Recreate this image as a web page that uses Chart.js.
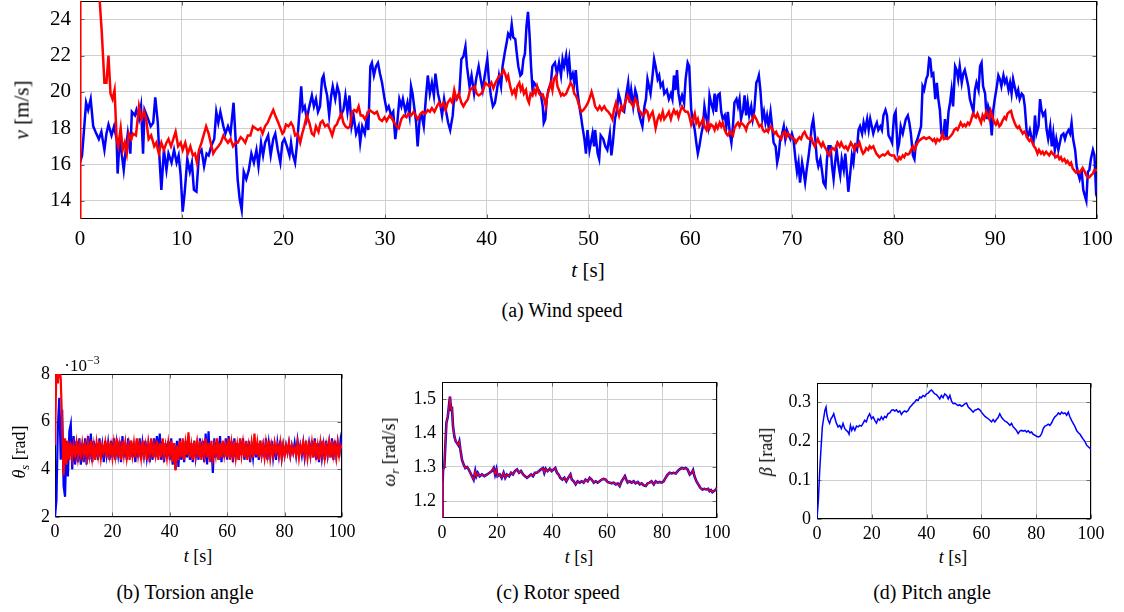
<!DOCTYPE html>
<html>
<head>
<meta charset="utf-8">
<script src="https://cdn.jsdelivr.net/npm/chart.js@4.4.1/dist/chart.umd.min.js"></script>
<style>
  body { margin: 0; background: #fff; }
  #page { position: relative; width: 1124px; height: 612px; overflow: hidden; font-family: 'Liberation Serif', 'Times New Roman', 'DejaVu Serif', serif; color: #000; }
  canvas { position: absolute; }
  .lbl { position: absolute; white-space: nowrap; transform: translate(-50%, -50%); line-height: 1; }
  .rot { transform: translate(-50%, -50%) rotate(-90deg); }
  sub { font-size: 70%; vertical-align: -0.3em; line-height: 0; }
  sup { font-size: 70%; vertical-align: 0.55em; line-height: 0; }
</style>
</head>
<body>
<div id="page">
  <canvas id="windChart" style="left:0;top:0" width="1124" height="250"></canvas>
  <canvas id="torsionChart" style="left:0;top:360px" width="370" height="180"></canvas>
  <canvas id="rotorChart" style="left:370px;top:360px" width="370" height="180"></canvas>
  <canvas id="pitchChart" style="left:740px;top:360px" width="384" height="180"></canvas>

  <div class="lbl rot" style="left:22px;top:110px;font-size:21px"><i>v</i> [m/s]</div>
  <div class="lbl" style="left:588px;top:270px;font-size:21px"><i>t</i> [s]</div>
  <div class="lbl" style="left:562px;top:310px;font-size:20px">(a) Wind speed</div>

  <div class="lbl" style="left:82px;top:365px;font-size:17px">·10<sup>−3</sup></div>
  <div class="lbl rot" style="left:19px;top:452px;font-size:18px"><i>θ<sub>s</sub></i> [rad]</div>
  <div class="lbl" style="left:198px;top:556px;font-size:18px"><i>t</i> [s]</div>
  <div class="lbl" style="left:185px;top:592px;font-size:20px">(b) Torsion angle</div>

  <div class="lbl rot" style="left:389px;top:452px;font-size:18px"><i>ω<sub>r</sub></i> [rad/s]</div>
  <div class="lbl" style="left:579px;top:557px;font-size:18px"><i>t</i> [s]</div>
  <div class="lbl" style="left:558px;top:592px;font-size:20px">(c) Rotor speed</div>

  <div class="lbl rot" style="left:766px;top:452px;font-size:18px"><i>β</i> [rad]</div>
  <div class="lbl" style="left:953px;top:557px;font-size:18px"><i>t</i> [s]</div>
  <div class="lbl" style="left:932px;top:592px;font-size:20px">(d) Pitch angle</div>
</div>
<script>
// tick values
const timeTicksMain = [0, 10, 20, 30, 40, 50, 60, 70, 80, 90, 100]
const windTicks = [14, 16, 18, 20, 22, 24]
const timeTicksSmall = [0, 20, 40, 60, 80, 100]
const torsionTicks = [2, 4, 6, 8]
const rotorTicks = [1.2, 1.3, 1.4, 1.5]
const pitchTicks = [0, 0.1, 0.2, 0.3]

// (a) wind speed [t, v]
const windMeasured = [[0,16.1],[0.2,16.5],[0.6,19.4],[0.8,19.0],[1.05,19.6],[1.3,18.1],[1.6,17.7],[1.85,17.4],[2.1,17.8],[2.4,16.8],[2.6,17.7],[2.8,18.2],[3.1,17.6],[3.35,18.1],[3.6,17.4],[3.7,15.5],[3.9,17.4],[4.1,16.6],[4.3,15.7],[4.5,16.8],[4.7,17.7],[4.95,16.6],[5.1,18.9],[5.4,18.7],[5.55,19.0],[5.8,18.5],[6.0,19.2],[6.2,16.6],[6.35,19.0],[6.7,18.5],[6.95,18.1],[7.2,18.3],[7.4,19.7],[7.65,18.3],[7.8,16.5],[8.0,14.6],[8.25,16.8],[8.5,15.7],[8.7,16.6],[9.0,16.1],[9.25,16.8],[9.5,16.1],[9.7,16.5],[9.9,15.4],[10.1,13.4],[10.3,14.5],[10.55,16.3],[10.8,15.6],[11.0,16.1],[11.2,14.6],[11.45,14.5],[11.7,16.6],[11.95,16.8],[12.2,15.9],[12.45,16.6],[12.65,16.5],[12.9,17.0],[13.2,17.4],[13.4,18.9],[13.6,18.3],[13.8,18.9],[14.1,18.1],[14.3,17.7],[14.55,18.1],[14.8,17.7],[15.1,19.4],[15.3,17.4],[15.5,15.2],[15.7,14.1],[15.9,13.5],[16.1,15.6],[16.35,15.2],[16.6,15.7],[16.85,16.6],[17.1,16.1],[17.35,16.8],[17.55,15.9],[17.8,17.2],[18.0,16.5],[18.2,17.2],[18.5,17.6],[18.75,16.5],[19.0,17.4],[19.2,17.7],[19.45,16.8],[19.7,16.1],[19.9,17.2],[20.1,17.4],[20.35,17.0],[20.6,16.5],[20.75,17.2],[20.9,16.6],[21.15,16.1],[21.35,17.2],[21.6,19.0],[21.75,20.3],[21.9,19.0],[22.1,19.2],[22.3,18.5],[22.55,19.2],[22.8,19.8],[23.0,19.2],[23.2,19.6],[23.4,18.9],[23.6,19.2],[23.8,20.7],[23.95,20.9],[24.1,20.3],[24.3,19.8],[24.5,18.7],[24.7,19.8],[24.85,20.3],[25.1,19.6],[25.3,20.3],[25.5,19.9],[25.65,18.7],[25.9,19.0],[26.1,19.8],[26.3,18.9],[26.5,19.8],[26.7,18.1],[26.9,18.7],[27.15,17.7],[27.4,18.1],[27.55,17.2],[27.75,18.1],[28.0,17.7],[28.2,18.5],[28.35,17.9],[28.55,21.4],[28.7,21.6],[28.9,20.9],[29.1,21.4],[29.3,21.6],[29.5,21.0],[29.7,20.5],[29.95,19.6],[30.15,19.0],[30.35,19.2],[30.6,18.7],[30.8,18.9],[31.0,17.4],[31.2,18.3],[31.4,19.6],[31.6,19.2],[31.75,19.6],[32.0,18.9],[32.2,19.4],[32.4,18.7],[32.55,20.3],[32.7,19.9],[32.9,19.0],[33.05,18.3],[33.2,17.0],[33.4,18.5],[33.6,18.7],[33.8,18.1],[34.0,19.6],[34.2,20.9],[34.4,19.9],[34.6,20.5],[34.8,19.8],[34.95,21.0],[35.2,19.9],[35.4,19.4],[35.6,18.7],[35.8,19.6],[36.0,18.9],[36.2,18.3],[36.4,17.9],[36.65,18.7],[36.8,19.8],[37.05,19.6],[37.3,19.9],[37.5,21.8],[37.7,21.95],[37.9,22.5],[38.05,21.4],[38.3,20.3],[38.5,20.9],[38.75,19.9],[38.95,20.7],[39.2,21.4],[39.4,20.7],[39.6,20.1],[39.8,20.9],[40.05,21.8],[40.2,20.7],[40.4,19.8],[40.6,19.2],[40.8,19.4],[41.0,20.1],[41.2,20.9],[41.4,20.3],[41.55,21.4],[41.75,22.1],[41.95,22.7],[42.1,23.2],[42.3,23.0],[42.45,23.7],[42.6,23.0],[42.8,22.9],[42.95,22.1],[43.1,21.4],[43.3,20.9],[43.45,21.0],[43.6,21.8],[43.75,22.1],[43.9,23.6],[44.05,24.4],[44.2,23.2],[44.35,21.4],[44.5,20.1],[44.65,20.5],[44.9,20.3],[45.1,20.1],[45.3,19.9],[45.5,19.2],[45.6,18.3],[45.75,18.5],[45.9,19.6],[46.05,20.1],[46.3,20.5],[46.45,21.4],[46.7,21.6],[46.9,21.0],[47.1,21.6],[47.3,20.9],[47.45,21.8],[47.6,21.4],[47.8,22.0],[47.95,21.2],[48.1,21.8],[48.25,20.7],[48.45,21.0],[48.6,20.5],[48.75,21.2],[48.9,20.1],[49.1,19.2],[49.25,18.7],[49.4,18.1],[49.6,17.4],[49.75,16.6],[49.9,17.9],[50.1,16.8],[50.4,17.7],[50.55,17.0],[50.65,17.9],[50.9,16.6],[51.05,16.3],[51.2,17.6],[51.45,17.4],[51.65,17.0],[51.85,16.8],[52.1,17.7],[52.25,16.5],[52.4,17.2],[52.6,18.5],[52.8,19.0],[52.95,19.9],[53.1,19.6],[53.3,19.0],[53.5,18.9],[53.7,19.8],[53.9,20.5],[54.05,19.4],[54.2,20.1],[54.4,19.2],[54.6,20.1],[54.75,19.8],[54.9,19.0],[55.1,18.5],[55.3,18.1],[55.5,19.2],[55.65,19.6],[55.8,20.7],[55.95,20.3],[56.1,19.9],[56.3,20.9],[56.45,21.8],[56.6,21.4],[56.8,20.7],[56.95,20.9],[57.1,20.3],[57.3,20.5],[57.45,19.9],[57.7,20.1],[57.9,19.6],[58.1,19.9],[58.25,19.6],[58.4,20.9],[58.55,20.1],[58.7,21.2],[58.85,19.9],[59.0,19.4],[59.2,19.8],[59.4,19.4],[59.55,20.7],[59.75,21.6],[59.9,21.4],[60.1,19.0],[60.3,18.3],[60.45,17.9],[60.6,17.2],[60.75,16.6],[60.9,17.0],[61.1,17.7],[61.25,18.1],[61.4,19.2],[61.6,18.5],[61.75,18.1],[61.9,19.8],[62.05,19.4],[62.25,19.0],[62.4,19.9],[62.55,18.9],[62.7,19.8],[62.9,19.9],[63.05,18.9],[63.2,18.5],[63.4,18.7],[63.55,18.1],[63.7,18.9],[63.9,17.7],[64.05,17.2],[64.2,18.1],[64.35,19.4],[64.55,19.6],[64.7,19.2],[64.85,19.6],[65.0,18.5],[65.2,19.0],[65.35,19.8],[65.5,18.7],[65.65,19.4],[65.8,18.7],[66.0,19.2],[66.15,18.5],[66.3,19.0],[66.5,20.5],[66.65,20.7],[66.75,20.9],[66.9,20.1],[67.1,18.5],[67.25,18.9],[67.4,18.3],[67.55,18.7],[67.7,18.1],[67.9,18.9],[68.05,18.1],[68.2,17.2],[68.4,17.0],[68.55,16.1],[68.7,16.5],[68.85,17.4],[69.0,17.6],[69.2,18.1],[69.35,17.4],[69.5,17.9],[69.7,17.6],[69.85,17.4],[70.0,17.7],[70.15,17.4],[70.35,16.3],[70.5,15.6],[70.65,16.1],[70.8,15.0],[71.0,16.1],[71.15,15.6],[71.3,15.0],[71.45,15.7],[71.65,16.5],[71.8,17.2],[71.95,18.1],[72.1,18.5],[72.3,17.4],[72.45,16.3],[72.6,15.9],[72.8,16.3],[72.95,15.7],[73.1,15.0],[73.3,14.8],[73.45,16.3],[73.6,17.0],[73.8,17.0],[73.95,15.9],[74.1,15.2],[74.25,16.1],[74.4,16.8],[74.6,15.9],[74.75,15.4],[74.9,16.3],[75.1,15.7],[75.25,16.6],[75.4,15.6],[75.55,14.5],[75.75,15.6],[75.9,16.5],[76.05,16.1],[76.2,17.0],[76.4,16.8],[76.55,17.9],[76.7,18.1],[76.9,17.7],[77.05,18.3],[77.2,17.9],[77.4,18.5],[77.55,17.9],[77.7,18.5],[77.85,18.1],[78.0,17.7],[78.2,18.1],[78.35,18.3],[78.5,17.9],[78.7,18.1],[78.85,17.9],[79.0,18.7],[79.2,19.0],[79.35,18.7],[79.5,17.6],[79.7,17.4],[79.85,17.2],[80.05,18.7],[80.2,18.9],[80.4,16.8],[80.55,17.2],[80.7,18.1],[80.9,17.7],[81.05,18.1],[81.2,18.5],[81.4,18.7],[81.55,18.3],[81.7,17.7],[81.9,16.5],[82.05,16.3],[82.2,17.2],[82.35,17.4],[82.5,17.7],[82.7,18.1],[82.85,20.3],[83.0,20.1],[83.2,20.7],[83.35,20.9],[83.5,21.85],[83.6,21.8],[83.75,20.9],[83.9,21.0],[84.1,19.6],[84.25,20.5],[84.4,19.6],[84.55,19.0],[84.7,17.7],[84.9,17.6],[85.05,18.5],[85.2,17.4],[85.4,18.9],[85.55,19.4],[85.7,20.1],[85.85,19.2],[86.05,21.4],[86.2,21.2],[86.35,20.7],[86.5,21.4],[86.7,20.5],[86.85,21.0],[87.0,21.2],[87.2,20.7],[87.35,20.3],[87.5,19.6],[87.7,19.2],[87.85,18.9],[88.0,20.1],[88.15,20.5],[88.35,20.1],[88.5,21.4],[88.65,21.6],[88.8,20.3],[89.0,19.9],[89.15,18.5],[89.3,19.2],[89.45,18.9],[89.65,17.6],[89.8,19.0],[89.95,19.6],[90.15,20.3],[90.3,20.9],[90.45,20.7],[90.6,20.3],[90.8,20.9],[90.95,20.5],[91.1,20.7],[91.3,20.1],[91.45,20.5],[91.6,19.9],[91.75,20.7],[91.9,20.3],[92.1,19.8],[92.25,20.1],[92.4,19.6],[92.6,19.9],[92.75,19.8],[92.9,19.2],[93.1,17.7],[93.25,17.6],[93.4,17.9],[93.6,17.4],[93.75,17.2],[93.9,18.7],[94.05,17.7],[94.25,18.1],[94.4,19.6],[94.55,19.0],[94.7,18.7],[94.9,18.9],[95.05,17.9],[95.2,17.4],[95.4,18.1],[95.55,17.0],[95.7,17.7],[95.85,16.8],[96.0,17.4],[96.2,16.8],[96.35,17.2],[96.5,17.6],[96.7,17.7],[96.85,17.4],[97.0,17.7],[97.2,17.9],[97.35,17.7],[97.5,18.3],[97.65,17.4],[97.85,16.8],[98.0,15.9],[98.15,15.5],[98.3,15.2],[98.5,15.6],[98.65,14.6],[98.8,14.3],[98.95,14.0],[99.1,15.6],[99.25,15.7],[99.4,16.3],[99.6,16.8],[99.75,16.5],[99.9,14.6],[100,14.8]]

const windEstimated = [[0,5],[0.03,32],[1.0,30],[1.93,25.06],[2.15,23.2],[2.4,20.5],[2.6,20.5],[2.8,22.0],[3.0,19.9],[3.2,19.6],[3.4,20.1],[3.6,17.4],[3.75,17.0],[4.0,18.0],[4.2,16.8],[4.4,17.2],[4.6,16.6],[4.8,17.7],[5.05,17.4],[5.2,17.7],[5.5,17.6],[5.8,19.2],[6.05,18.5],[6.3,18.9],[6.5,18.5],[6.75,17.4],[7.0,17.6],[7.3,17.0],[7.5,17.2],[7.75,16.6],[8.0,17.2],[8.25,16.8],[8.5,17.2],[8.7,17.4],[8.95,17.0],[9.4,17.8],[9.65,17.0],[9.9,17.2],[10.1,16.8],[10.35,17.2],[10.6,16.6],[10.85,17.0],[11.1,16.5],[11.3,16.6],[11.5,16.1],[11.7,16.8],[11.95,17.2],[12.2,17.7],[12.4,18.1],[12.65,17.7],[12.85,17.2],[13.1,16.6],[13.3,16.8],[13.6,17.0],[13.85,17.2],[14.1,17.6],[14.3,17.4],[14.55,17.2],[14.8,17.4],[15.05,17.0],[15.3,17.2],[15.5,17.2],[15.8,17.5],[16.0,17.4],[16.25,17.2],[16.5,17.6],[16.75,17.6],[17.0,18.1],[17.25,18.0],[17.5,17.9],[17.75,18.0],[17.95,17.7],[18.2,18.1],[18.45,18.3],[18.75,18.7],[19.0,19.0],[19.2,18.7],[19.5,18.3],[19.7,18.0],[19.9,17.7],[20.05,17.8],[20.25,18.2],[20.5,18.1],[20.75,18.3],[20.95,18.1],[21.15,17.6],[21.4,17.7],[21.65,17.2],[21.85,17.7],[22.05,18.1],[22.3,18.7],[22.55,18.3],[22.8,17.7],[23.0,17.6],[23.2,18.1],[23.45,17.8],[23.65,18.3],[23.85,18.4],[24.1,18.1],[24.35,18.2],[24.6,17.9],[24.8,17.6],[25.05,18.1],[25.25,18.2],[25.45,18.5],[25.7,18.8],[25.9,18.3],[26.1,18.1],[26.35,18.0],[26.55,18.1],[26.75,18.9],[27.0,19.0],[27.2,18.9],[27.4,19.2],[27.6,18.7],[27.8,18.7],[28.0,18.5],[28.2,18.7],[28.45,19.0],[28.7,18.9],[28.95,18.8],[29.2,18.9],[29.45,18.5],[29.7,18.4],[29.95,18.6],[30.15,18.4],[30.45,18.7],[30.7,18.5],[30.9,18.3],[31.15,18.1],[31.35,18.0],[31.6,18.5],[31.85,18.7],[32.1,18.6],[32.3,18.8],[32.55,18.7],[32.8,18.9],[33.0,18.7],[33.2,18.5],[33.5,18.8],[33.7,18.9],[33.95,18.8],[34.2,19.0],[34.4,18.9],[34.6,19.1],[34.85,18.9],[35.1,19.2],[35.3,19.4],[35.5,19.2],[35.75,19.4],[35.95,19.0],[36.15,19.4],[36.4,19.6],[36.6,19.4],[36.8,20.1],[37.0,19.6],[37.25,19.9],[37.5,19.4],[37.7,19.2],[37.9,19.4],[38.15,19.6],[38.35,20.1],[38.55,20.2],[38.8,20.3],[39.0,19.9],[39.2,19.8],[39.45,19.9],[39.65,20.1],[39.85,20.5],[40.05,20.4],[40.25,20.3],[40.45,20.5],[40.65,20.2],[40.85,20.5],[41.05,20.7],[41.25,20.9],[41.5,21.0],[41.65,21.2],[41.8,21.0],[41.95,20.7],[42.1,20.9],[42.3,20.3],[42.5,19.9],[42.7,20.1],[42.85,19.8],[43.0,20.3],[43.2,20.5],[43.35,20.1],[43.5,20.3],[43.65,19.9],[43.85,20.1],[44.0,19.6],[44.15,19.4],[44.3,19.9],[44.5,19.8],[44.65,20.1],[44.8,19.9],[44.95,20.3],[45.15,19.9],[45.3,19.8],[45.5,19.85],[45.65,19.6],[45.8,19.2],[45.95,19.8],[46.1,20.1],[46.3,20.5],[46.45,20.1],[46.6,20.7],[46.8,20.9],[46.95,20.3],[47.1,20.1],[47.3,19.8],[47.45,19.9],[47.6,19.8],[47.8,19.9],[47.95,20.1],[48.1,20.3],[48.25,20.5],[48.45,20.3],[48.6,19.9],[48.75,19.8],[48.9,19.6],[49.1,19.2],[49.3,18.9],[49.5,19.0],[49.75,19.2],[49.95,19.4],[50.2,19.8],[50.3,20.0],[50.5,19.6],[50.65,19.2],[50.9,19.0],[51.1,19.2],[51.3,19.0],[51.55,19.2],[51.75,19.0],[51.95,18.9],[52.2,18.7],[52.35,18.5],[52.5,19.0],[52.7,19.4],[52.85,19.0],[53.0,18.7],[53.2,19.2],[53.4,19.0],[53.6,19.4],[53.85,19.8],[54.0,19.6],[54.15,19.4],[54.4,19.2],[54.6,19.6],[54.8,19.4],[54.95,19.0],[55.1,18.9],[55.3,18.7],[55.5,18.8],[55.65,19.0],[55.8,18.9],[55.95,18.5],[56.1,18.7],[56.3,18.9],[56.45,18.5],[56.6,18.0],[56.8,18.5],[56.95,18.7],[57.1,18.5],[57.3,18.9],[57.45,18.5],[57.7,18.7],[57.9,18.9],[58.1,18.5],[58.25,18.8],[58.4,19.0],[58.55,18.8],[58.7,18.9],[58.85,18.6],[59.0,18.9],[59.2,19.2],[59.4,19.0],[59.55,18.9],[59.75,18.9],[59.9,18.7],[60.1,18.2],[60.3,18.5],[60.45,18.8],[60.6,18.3],[60.75,18.5],[60.9,18.1],[61.1,18.3],[61.25,18.5],[61.4,18.1],[61.6,17.9],[61.75,18.3],[61.9,18.0],[62.05,18.2],[62.25,18.1],[62.4,17.9],[62.55,18.2],[62.7,18.0],[62.9,18.3],[63.05,18.1],[63.2,18.3],[63.4,17.9],[63.55,17.7],[63.7,17.6],[63.9,17.8],[64.05,17.7],[64.2,17.6],[64.35,18.0],[64.55,18.2],[64.7,18.3],[64.85,18.1],[65.0,18.3],[65.2,18.2],[65.35,18.1],[65.5,17.9],[65.65,18.2],[65.8,18.3],[66.0,18.4],[66.15,18.5],[66.3,18.7],[66.5,18.5],[66.65,18.3],[66.8,18.1],[67.0,18.2],[67.15,17.9],[67.3,17.8],[67.5,17.9],[67.65,17.8],[67.8,18.0],[67.95,18.1],[68.1,17.9],[68.3,17.7],[68.45,17.8],[68.6,17.6],[68.8,17.5],[68.95,17.4],[69.1,17.7],[69.3,17.8],[69.45,17.5],[69.6,17.7],[69.8,17.6],[69.95,17.5],[70.1,17.45],[70.25,17.4],[70.4,17.2],[70.6,17.4],[70.75,17.5],[70.9,17.4],[71.1,17.7],[71.25,17.8],[71.4,17.6],[71.55,17.45],[71.7,17.4],[71.9,17.5],[72.05,17.2],[72.25,17.0],[72.4,17.2],[72.55,17.4],[72.7,17.2],[72.9,17.0],[73.05,17.2],[73.2,17.0],[73.4,16.8],[73.55,16.6],[73.7,16.5],[73.85,16.8],[74.0,16.9],[74.2,16.8],[74.35,17.0],[74.5,17.2],[74.7,17.0],[74.85,17.2],[75.0,17.0],[75.15,16.9],[75.3,17.0],[75.5,16.8],[75.65,17.0],[75.8,17.2],[76.0,17.0],[76.15,16.8],[76.3,17.1],[76.5,17.0],[76.65,17.2],[76.85,16.8],[77.0,16.6],[77.15,16.7],[77.3,16.9],[77.5,16.8],[77.65,17.0],[77.8,16.9],[78.0,17.0],[78.15,16.8],[78.3,16.6],[78.45,16.5],[78.6,16.4],[78.8,16.5],[78.95,16.55],[79.1,16.5],[79.3,16.6],[79.45,16.7],[79.6,16.55],[79.8,16.5],[80.05,16.5],[80.2,16.3],[80.4,16.2],[80.55,16.4],[80.7,16.3],[80.9,16.5],[81.05,16.4],[81.2,16.6],[81.4,16.55],[81.55,16.6],[81.7,16.8],[81.9,17.0],[82.05,16.8],[82.2,17.0],[82.35,17.2],[82.5,17.3],[82.7,17.4],[82.85,17.45],[83.0,17.5],[83.2,17.4],[83.35,17.45],[83.5,17.5],[83.7,17.4],[83.85,17.3],[84.0,17.4],[84.15,17.2],[84.3,17.4],[84.5,17.3],[84.65,17.4],[84.8,17.7],[84.95,17.4],[85.15,17.45],[85.3,17.4],[85.5,17.5],[85.65,17.6],[85.8,17.7],[85.95,17.9],[86.15,18.0],[86.3,17.9],[86.45,18.1],[86.6,18.3],[86.8,18.1],[86.95,18.2],[87.1,18.1],[87.3,18.3],[87.45,18.2],[87.6,18.4],[87.8,18.8],[87.95,18.7],[88.1,18.6],[88.25,18.8],[88.45,18.5],[88.6,18.3],[88.75,18.7],[88.9,18.5],[89.1,18.9],[89.25,18.7],[89.4,18.5],[89.55,18.95],[89.75,18.6],[89.9,18.3],[90.05,18.2],[90.2,18.4],[90.4,18.1],[90.55,18.2],[90.7,18.4],[90.9,18.6],[91.05,18.5],[91.2,18.8],[91.4,18.9],[91.55,18.95],[91.7,18.6],[91.9,18.3],[92.05,18.1],[92.2,18.0],[92.35,18.1],[92.5,17.9],[92.7,17.7],[92.85,17.8],[93.0,17.7],[93.1,17.5],[93.35,17.3],[93.5,17.4],[93.65,17.2],[93.8,17.0],[93.95,16.9],[94.15,16.6],[94.3,16.8],[94.5,16.6],[94.65,16.7],[94.8,16.55],[95.0,16.7],[95.15,16.6],[95.3,16.5],[95.5,16.7],[95.65,16.6],[95.8,16.5],[95.95,16.4],[96.15,16.5],[96.3,16.3],[96.45,16.4],[96.6,16.2],[96.8,16.3],[96.95,16.1],[97.1,16.2],[97.3,16.0],[97.45,16.1],[97.6,15.8],[97.8,15.65],[97.95,15.55],[98.1,15.65],[98.3,15.55],[98.45,15.7],[98.6,15.8],[98.75,15.65],[98.95,15.4],[99.1,15.3],[99.25,15.3],[99.4,15.4],[99.6,15.5],[99.75,15.7],[100,15.7]]

// (b) torsion angle, x1e-3 rad, one sample every 0.5 s
const torsionStep = 0.5
const torsionMeasured = [
  2.0, 2.7, 5.8, 7.0, 4.4, 6.5, 3.3, 2.85, 5.2, 3.7, 5.6, 5.9, 4.0, 5.4, 4.2, 5.2, 4.3, 5.3, 4.2, 5.1,
  4.3, 5.3, 4.2, 5.4, 4.4, 5.5, 4.3, 5.2, 4.5, 5.1, 4.4, 5.3, 4.5, 5.0, 4.3, 5.2, 4.6, 5.1, 4.4, 5.2,
  4.5, 5.3, 4.4, 5.1, 4.6, 5.2, 4.3, 5.4, 4.5, 5.0, 4.4, 5.3, 4.6, 5.2, 4.5, 5.1, 4.3, 5.2, 4.5, 5.3,
  4.4, 5.1, 4.6, 5.2, 4.5, 5.0, 4.3, 5.2, 4.4, 5.3, 4.5, 5.4, 4.6, 5.5, 4.4, 5.2, 4.3, 5.1, 4.5, 5.2,
  4.4, 5.3, 4.2, 5.1, 4.0, 5.2, 4.1, 5.3, 4.4, 5.1, 4.3, 5.2, 4.5, 5.4, 4.4, 5.1, 4.3, 5.2, 4.5, 5.0,
  4.4, 5.3, 4.5, 5.2, 4.3, 5.5, 4.2, 5.6, 4.4, 5.0, 3.85, 5.3, 4.5, 5.2, 4.4, 5.4, 4.3, 5.1, 4.5, 5.3,
  4.4, 5.4, 4.5, 5.2, 4.3, 5.3, 4.5, 5.1, 4.4, 5.2, 4.6, 5.3, 4.4, 5.1, 4.5, 5.2, 4.3, 5.0, 4.5, 5.2,
  4.5, 5.1, 4.4, 5.2, 4.6, 5.0, 4.5, 5.3, 4.4, 5.1, 4.6, 5.2, 4.5, 5.0, 4.4, 5.1, 4.6, 5.2, 4.5, 5.0,
  4.6, 5.0, 4.7, 5.1, 4.6, 5.0, 4.7, 5.1, 4.6, 5.2, 4.7, 5.0, 4.6, 5.1, 4.5, 5.0, 4.7, 5.1, 4.6, 5.2,
  4.5, 5.3, 4.4, 5.1, 4.3, 5.2, 4.5, 5.0, 4.4, 5.2, 4.6, 5.1, 4.5, 5.3, 4.4, 5.2, 4.6, 5.1, 4.5, 5.2,
  4.8
]
const torsionEstimated = [
  5.0, 8.5, 7.6, 8.4, 7.8, 5.8, 3.75, 5.3, 4.2, 5.2, 4.4, 5.1, 4.5, 5.0, 4.6, 5.1, 4.5, 5.0, 4.6, 5.1,
  4.6, 5.0, 4.5, 5.1, 4.6, 5.2, 4.5, 5.0, 4.4, 5.1, 4.6, 5.2, 4.5, 5.0, 4.7, 5.1, 4.5, 5.2, 4.6, 5.0,
  4.5, 5.1, 4.6, 5.3, 4.5, 5.0, 4.4, 5.2, 4.6, 5.1, 4.5, 5.0, 4.4, 5.2, 4.6, 5.1, 4.5, 5.3, 4.6, 5.0,
  4.5, 5.2, 4.6, 5.0, 4.4, 5.1, 4.6, 5.3, 4.5, 5.0, 4.6, 5.2, 4.4, 5.1, 4.5, 5.3, 4.6, 5.0, 4.5, 5.1,
  4.6, 5.2, 4.3, 5.1, 3.95, 5.0, 4.4, 5.2, 4.5, 5.3, 4.4, 5.1, 4.6, 5.55, 4.5, 5.0, 4.4, 5.2, 4.6, 5.1,
  4.5, 5.2, 4.4, 5.0, 4.6, 5.3, 4.5, 5.1, 4.3, 5.2, 4.5, 5.0, 4.6, 5.3, 4.4, 5.1, 4.5, 5.2, 4.6, 5.0,
  4.5, 5.3, 4.4, 5.1, 4.6, 5.2, 4.5, 5.0, 4.4, 5.3, 4.6, 5.1, 4.5, 5.2, 4.4, 5.0, 4.6, 5.1, 4.5, 5.5,
  4.6, 5.1, 4.5, 5.2, 4.6, 5.0, 4.5, 5.1, 4.6, 5.2, 4.5, 5.0, 4.6, 5.1, 4.7, 5.0, 4.6, 5.1, 4.5, 5.0,
  4.6, 5.0, 4.7, 5.1, 4.6, 5.0, 4.7, 4.9, 4.6, 5.1, 4.5, 5.0, 4.7, 5.1, 4.6, 5.2, 4.5, 5.0, 4.6, 5.1,
  4.5, 5.2, 4.6, 5.0, 4.4, 5.1, 4.6, 5.2, 4.5, 5.0, 4.6, 5.1, 4.5, 5.2, 4.6, 5.0, 4.5, 5.1, 4.6, 5.0,
  4.9
]

// (c) rotor speed [t, rad/s] - measured and estimated overlap
const rotorSpeed = [[0,1.1],[0.2,1.25],[0.4,1.293],[0.85,1.30],[1.6,1.43],[2.1,1.448],[2.5,1.478],[2.9,1.507],[3.3,1.468],[3.6,1.478],[4.0,1.42],[4.5,1.39],[5.0,1.375],[5.5,1.37],[5.9,1.365],[6.3,1.375],[6.7,1.35],[7.3,1.32],[7.9,1.307],[8.5,1.297],[9.1,1.30],[9.7,1.293],[10.3,1.283],[10.9,1.273],[11.5,1.263],[12.1,1.288],[12.5,1.273],[13.0,1.283],[13.7,1.273],[14.5,1.278],[15.4,1.273],[16.4,1.278],[17.3,1.283],[18.1,1.288],[18.8,1.297],[19.3,1.278],[19.8,1.293],[20.2,1.273],[21.0,1.278],[21.7,1.268],[22.4,1.283],[23.0,1.268],[23.6,1.278],[24.4,1.273],[25.1,1.283],[25.8,1.278],[26.5,1.288],[27.3,1.293],[28.0,1.283],[28.7,1.288],[29.5,1.278],[30.2,1.273],[30.9,1.268],[31.6,1.273],[32.4,1.278],[33.1,1.273],[33.8,1.283],[34.5,1.283],[35.3,1.288],[36.0,1.293],[36.7,1.297],[37.2,1.283],[37.7,1.295],[38.4,1.288],[39.2,1.295],[39.9,1.288],[40.6,1.293],[41.2,1.297],[41.8,1.283],[42.4,1.278],[43.0,1.268],[43.8,1.263],[44.5,1.268],[45.2,1.258],[45.9,1.268],[46.7,1.278],[47.2,1.263],[47.9,1.258],[48.6,1.249],[49.3,1.258],[50.1,1.254],[50.8,1.258],[51.5,1.254],[52.2,1.263],[53.0,1.258],[53.7,1.268],[54.4,1.263],[55.2,1.254],[55.9,1.258],[56.6,1.254],[57.3,1.258],[58.1,1.263],[58.8,1.265],[59.5,1.263],[60.2,1.256],[61.0,1.254],[61.7,1.252],[62.4,1.254],[63.2,1.249],[63.9,1.252],[64.6,1.244],[65.3,1.258],[66.1,1.268],[66.5,1.273],[67.0,1.263],[67.5,1.254],[68.2,1.258],[69.0,1.254],[69.7,1.258],[70.4,1.252],[71.2,1.256],[71.9,1.249],[72.6,1.252],[73.3,1.246],[74.1,1.244],[74.8,1.252],[75.5,1.254],[76.2,1.258],[77.0,1.249],[77.7,1.258],[78.4,1.254],[79.2,1.256],[79.9,1.254],[80.6,1.258],[81.3,1.268],[82.1,1.278],[82.8,1.283],[83.5,1.281],[84.2,1.283],[85.0,1.281],[85.7,1.288],[86.4,1.293],[87.2,1.297],[87.9,1.295],[88.6,1.297],[89.3,1.293],[90.1,1.278],[90.8,1.283],[91.3,1.291],[91.8,1.273],[92.5,1.258],[93.2,1.249],[93.9,1.239],[94.7,1.234],[95.4,1.236],[96.1,1.234],[96.8,1.236],[97.3,1.229],[97.8,1.232],[98.3,1.226],[98.8,1.229],[99.4,1.232],[100,1.239]]

// (d) pitch angle [t, rad]
const pitchAngle = [[0,0],[0.5,0.049],[1.0,0.126],[1.5,0.186],[1.95,0.237],[2.4,0.258],[2.9,0.28],[3.3,0.288],[3.65,0.267],[4.1,0.254],[4.6,0.246],[5.1,0.258],[5.6,0.263],[6.1,0.271],[6.6,0.258],[7.1,0.246],[7.7,0.237],[8.3,0.241],[8.9,0.233],[9.5,0.246],[10.1,0.233],[10.7,0.228],[11.3,0.224],[11.7,0.218],[12.2,0.241],[12.7,0.228],[13.2,0.237],[13.8,0.228],[14.4,0.239],[15.0,0.237],[15.6,0.241],[16.2,0.239],[16.8,0.246],[17.4,0.254],[18.0,0.25],[18.6,0.263],[19.2,0.271],[19.9,0.258],[20.5,0.263],[21.1,0.254],[21.7,0.247],[22.3,0.258],[22.9,0.254],[23.5,0.263],[24.1,0.256],[24.7,0.264],[25.3,0.261],[25.9,0.271],[26.6,0.273],[27.2,0.28],[27.8,0.281],[28.4,0.278],[29.0,0.281],[29.6,0.275],[30.2,0.278],[30.8,0.269],[31.4,0.275],[32.0,0.278],[32.6,0.275],[33.3,0.28],[33.9,0.288],[34.5,0.292],[35.1,0.297],[35.7,0.301],[36.3,0.307],[36.9,0.305],[37.5,0.314],[38.1,0.312],[38.7,0.318],[39.3,0.315],[40.0,0.322],[40.6,0.324],[41.2,0.329],[41.8,0.332],[42.4,0.327],[43.0,0.322],[43.6,0.32],[44.2,0.315],[44.8,0.309],[45.4,0.318],[46.0,0.312],[46.6,0.322],[47.3,0.318],[47.9,0.309],[48.5,0.318],[49.1,0.303],[49.7,0.297],[50.3,0.298],[50.9,0.295],[51.5,0.292],[52.1,0.294],[52.7,0.29],[53.3,0.292],[54.0,0.297],[54.6,0.298],[55.2,0.288],[55.8,0.284],[56.4,0.28],[57.0,0.275],[57.6,0.28],[58.2,0.281],[58.8,0.284],[59.4,0.281],[60.0,0.275],[60.7,0.269],[61.3,0.264],[61.9,0.261],[62.5,0.258],[63.1,0.254],[63.7,0.25],[64.3,0.256],[64.9,0.25],[65.5,0.256],[66.1,0.261],[66.7,0.271],[67.4,0.261],[68.0,0.256],[68.6,0.252],[69.2,0.25],[69.8,0.246],[70.4,0.241],[71.0,0.246],[71.6,0.237],[72.2,0.233],[72.8,0.228],[73.4,0.22],[74.1,0.227],[74.7,0.228],[75.3,0.226],[75.9,0.228],[76.5,0.224],[77.1,0.227],[77.7,0.222],[78.3,0.224],[78.9,0.218],[79.5,0.216],[80.1,0.213],[80.8,0.211],[81.4,0.213],[82.0,0.22],[82.6,0.233],[83.2,0.239],[83.8,0.241],[84.4,0.244],[85.0,0.241],[85.6,0.247],[86.2,0.256],[86.8,0.263],[87.5,0.267],[88.1,0.273],[88.7,0.269],[89.3,0.275],[89.9,0.271],[90.5,0.273],[91.1,0.267],[91.7,0.275],[92.3,0.263],[92.9,0.254],[93.5,0.246],[94.2,0.237],[94.8,0.227],[95.4,0.222],[96.0,0.218],[96.6,0.211],[97.2,0.205],[97.8,0.199],[98.4,0.19],[99.0,0.186],[99.6,0.182],[100,0.179]]

const BLUE = '#0000ff'
const RED = '#ff0000'
const SERIF = "'Liberation Serif', 'Times New Roman', 'DejaVu Serif', serif"

// axis box + small inward tick marks, like pgfplots
const frame = {
  id: 'frame',
  beforeDatasetsDraw(chart) {
    const { ctx, chartArea: a, scales: { x, y } } = chart
    const l = Math.round(a.left) + 0.5, r = Math.round(a.right) - 0.5
    const t = Math.round(a.top) + 0.5, b = Math.round(a.bottom) - 0.5
    ctx.save()
    ctx.lineWidth = 1
    ctx.strokeStyle = '#666'
    ctx.beginPath()
    for (const tick of x.ticks) {
      const px = Math.round(x.getPixelForValue(tick.value)) + 0.5
      ctx.moveTo(px, b); ctx.lineTo(px, b - 4)
      ctx.moveTo(px, t); ctx.lineTo(px, t + 4)
    }
    for (const tick of y.ticks) {
      const py = Math.round(y.getPixelForValue(tick.value)) + 0.5
      ctx.moveTo(l, py); ctx.lineTo(l + 4, py)
      ctx.moveTo(r, py); ctx.lineTo(r - 4, py)
    }
    ctx.stroke()
    ctx.strokeStyle = '#000'
    ctx.strokeRect(l, t, r - l, b - t)
    ctx.restore()
  }
}

function plot(id, cfg) {
  const tickFont = { family: SERIF, size: cfg.fontSize }
  return new Chart(document.getElementById(id), {
    type: 'line',
    data: { datasets: cfg.datasets },
    plugins: [frame],
    options: {
      responsive: false,
      animation: false,
      devicePixelRatio: 1,
      layout: { padding: { top: cfg.top, right: cfg.right, left: 0, bottom: 0 } },
      plugins: { legend: { display: false }, tooltip: { enabled: false } },
      elements: { point: { radius: 0 }, line: { tension: 0 } },
      scales: {
        x: {
          type: 'linear',
          min: 0,
          max: 100,
          afterBuildTicks: s => { s.ticks = cfg.xTicks.map(v => ({ value: v })) },
          afterFit: s => { s.height = cfg.xHeight; s.paddingLeft = 0; s.paddingRight = 0 },
          grid: { color: '#cfcfcf', drawTicks: false },
          border: { display: false },
          ticks: { font: tickFont, color: '#000', padding: cfg.xPad, maxRotation: 0, autoSkip: false, callback: v => String(v) }
        },
        y: {
          type: 'linear',
          min: cfg.yMin,
          max: cfg.yMax,
          afterBuildTicks: s => { s.ticks = cfg.yTicks.map(v => ({ value: v })) },
          afterFit: s => { s.width = cfg.yWidth; s.paddingTop = 0; s.paddingBottom = 0 },
          grid: { color: '#cfcfcf', drawTicks: false },
          border: { display: false },
          ticks: { font: tickFont, color: '#000', padding: cfg.yPad, autoSkip: false, callback: v => String(v) }
        }
      }
    }
  })
}

plot('windChart', {
  datasets: [
    { data: windEstimated, borderColor: RED, borderWidth: 2.5 },
    { data: windMeasured, borderColor: BLUE, borderWidth: 2.5 }
  ],
  xTicks: timeTicksMain, yTicks: windTicks, yMin: 13, yMax: 25,
  fontSize: 21, top: 1, right: 27, yWidth: 80, xHeight: 31, xPad: 8, yPad: 9
})

plot('torsionChart', {
  datasets: [
    { data: torsionEstimated.map((v, i) => [i * torsionStep, v]), borderColor: RED, borderWidth: 2.2 },
    { data: torsionMeasured.map((v, i) => [i * torsionStep, v]), borderColor: BLUE, borderWidth: 2.2 }
  ],
  xTicks: timeTicksSmall, yTicks: torsionTicks, yMin: 2, yMax: 8,
  fontSize: 18, top: 14, right: 28, yWidth: 55, xHeight: 23, xPad: 4, yPad: 5
})

plot('rotorChart', {
  datasets: [
    { data: rotorSpeed, borderColor: RED, borderWidth: 1.2 },
    { data: rotorSpeed, borderColor: BLUE, borderWidth: 2.6 }
  ],
  xTicks: timeTicksSmall, yTicks: rotorTicks, yMin: 1.15, yMax: 1.55,
  fontSize: 18, top: 22, right: 23, yWidth: 72, xHeight: 22, xPad: 4, yPad: 6
})

plot('pitchChart', {
  datasets: [
    { data: pitchAngle, borderColor: BLUE, borderWidth: 1.5 }
  ],
  xTicks: timeTicksSmall, yTicks: pitchTicks, yMin: 0, yMax: 0.35,
  fontSize: 18, top: 23, right: 33, yWidth: 77, xHeight: 21, xPad: 4, yPad: 6
})
</script>
</body>
</html>
